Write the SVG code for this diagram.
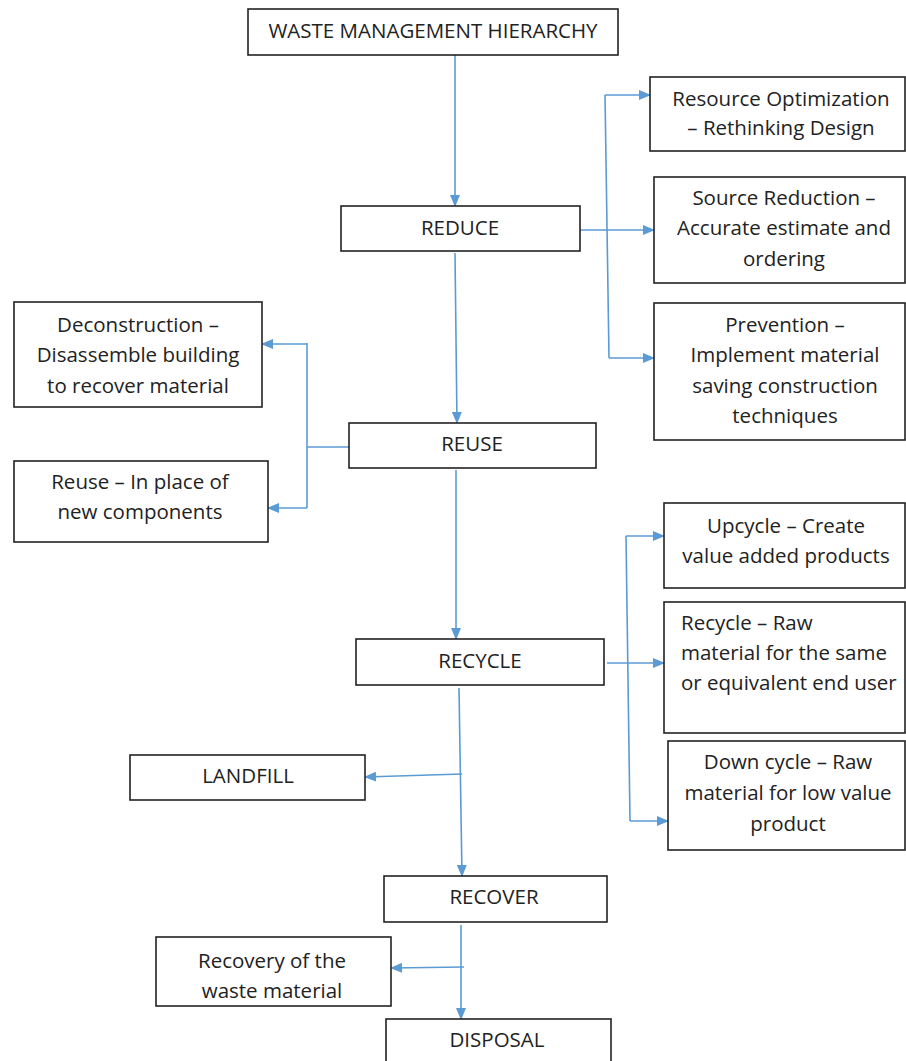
<svg xmlns="http://www.w3.org/2000/svg" width="906" height="1061" viewBox="0 0 906 1061">
<style>
.box{fill:#fff;stroke:#222;stroke-width:1.6}
.t{font-family:"Open Sans","Noto Sans",sans-serif;font-size:20.5px;fill:#222;text-anchor:middle}
.l{text-anchor:start}
.c{fill:none;stroke:#5b9bd5;stroke-width:1.6}
</style>
<defs>
<marker id="ah" markerUnits="userSpaceOnUse" markerWidth="12" markerHeight="10" refX="11" refY="5" orient="auto">
<path d="M0,0 L12,5 L0,10 Z" fill="#5b9bd5"/>
</marker>
</defs>
<rect width="906" height="1061" fill="#fff"/>
<g id="connectors">
<path class="c" d="M455,55 V206" marker-end="url(#ah)"/>
<path class="c" d="M455,253 L457,423" marker-end="url(#ah)"/>
<path class="c" d="M456,470 V639" marker-end="url(#ah)"/>
<path class="c" d="M459,688 L462,876" marker-end="url(#ah)"/>
<path class="c" d="M461,925 V1019" marker-end="url(#ah)"/>
<path class="c" d="M580,230 H654" marker-end="url(#ah)"/>
<path class="c" d="M605,95 L609,358"/>
<path class="c" d="M605,95 H650" marker-end="url(#ah)"/>
<path class="c" d="M609,358 H654" marker-end="url(#ah)"/>
<path class="c" d="M349,447 H307"/>
<path class="c" d="M307,343 V508"/>
<path class="c" d="M307,344 H262" marker-end="url(#ah)"/>
<path class="c" d="M307,508 H268" marker-end="url(#ah)"/>
<path class="c" d="M607,663 H664" marker-end="url(#ah)"/>
<path class="c" d="M626,536 L630,821"/>
<path class="c" d="M626,536 H664" marker-end="url(#ah)"/>
<path class="c" d="M630,821 H668" marker-end="url(#ah)"/>
<path class="c" d="M462,774 L365,777" marker-end="url(#ah)"/>
<path class="c" d="M464,967 L391,968" marker-end="url(#ah)"/>
</g>
<g id="title"><rect class="box" x="248" y="9" width="370" height="46"/><text class="t" x="433" y="38">WASTE MANAGEMENT HIERARCHY</text></g>
<g id="reduce"><rect class="box" x="341" y="206" width="239" height="45"/><text class="t" x="460" y="235">REDUCE</text></g>
<g id="resource"><rect class="box" x="650" y="77" width="255" height="74"/><text class="t" x="781" y="106">Resource Optimization</text><text class="t" x="781" y="135">– Rethinking Design</text></g>
<g id="source"><rect class="box" x="654" y="177" width="251" height="106"/><text class="t" x="784" y="205">Source Reduction –</text><text class="t" x="784" y="235">Accurate estimate and</text><text class="t" x="784" y="266">ordering</text></g>
<g id="prevention"><rect class="box" x="654" y="303" width="251" height="137"/><text class="t" x="785" y="332">Prevention –</text><text class="t" x="785" y="362">Implement material</text><text class="t" x="785" y="393">saving construction</text><text class="t" x="785" y="423">techniques</text></g>
<g id="deconstruction"><rect class="box" x="14" y="302" width="248" height="105"/><text class="t" x="138" y="332">Deconstruction –</text><text class="t" x="138" y="362">Disassemble building</text><text class="t" x="138" y="393">to recover material</text></g>
<g id="reuse-place"><rect class="box" x="14" y="461" width="254" height="81"/><text class="t" x="140" y="489">Reuse – In place of</text><text class="t" x="140" y="519">new components</text></g>
<g id="reuse"><rect class="box" x="349" y="423" width="247" height="45"/><text class="t" x="472" y="451">REUSE</text></g>
<g id="upcycle"><rect class="box" x="664" y="503" width="241" height="85"/><text class="t" x="786" y="533">Upcycle – Create</text><text class="t" x="786" y="563">value added products</text></g>
<g id="recycle-raw"><rect class="box" x="664" y="602" width="241" height="131"/><text class="t l" x="681" y="630">Recycle – Raw</text><text class="t l" x="681" y="660">material for the same</text><text class="t l" x="681" y="690">or equivalent end user</text></g>
<g id="downcycle"><rect class="box" x="668" y="741" width="237" height="109"/><text class="t" x="788" y="769">Down cycle – Raw</text><text class="t" x="788" y="800">material for low value</text><text class="t" x="788" y="831">product</text></g>
<g id="recycle"><rect class="box" x="356" y="639" width="248" height="46"/><text class="t" x="480" y="668">RECYCLE</text></g>
<g id="landfill"><rect class="box" x="130" y="755" width="235" height="45"/><text class="t" x="248" y="783">LANDFILL</text></g>
<g id="recover"><rect class="box" x="384" y="876" width="223" height="46"/><text class="t" x="494" y="904">RECOVER</text></g>
<g id="recovery"><rect class="box" x="156" y="937" width="235" height="69"/><text class="t" x="272" y="968">Recovery of the</text><text class="t" x="272" y="998">waste material</text></g>
<g id="disposal"><rect class="box" x="386" y="1019" width="225" height="50"/><text class="t" x="497" y="1047">DISPOSAL</text></g>
</svg>
